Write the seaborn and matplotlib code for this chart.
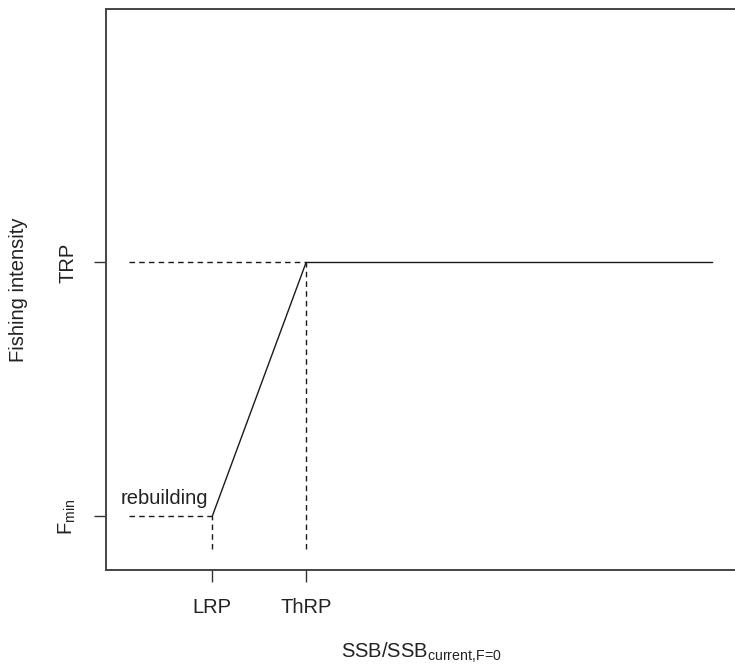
import matplotlib
matplotlib.use("Agg")
import matplotlib.pyplot as plt
import seaborn as sns
import pandas as pd

# ---- data (fractions of the plotting range) ----
x_start = 0.0
x_lrp = 0.142
x_thrp = 0.303
x_end = 1.0
y_base = 0.0
y_fmin = 0.063
y_trp = 0.552
y_top = 1.0

hcr_x = [x_lrp, x_thrp, x_end]
hcr_y = [y_fmin, y_trp, y_trp]

x_tick_pos = [x_lrp, x_thrp]
x_tick_labels = ["LRP", "ThRP"]
y_tick_pos = [y_fmin, y_trp]
y_tick_labels = [r"$\mathregular{F_{min}}$", "TRP"]

sns.set_style("white")
plt.rcParams['font.family'] = ['Liberation Sans', 'DejaVu Sans']
plt.rcParams['mathtext.fontset'] = 'custom'
plt.rcParams['mathtext.rm'] = 'Liberation Sans'
plt.rcParams['mathtext.it'] = 'Liberation Sans'

fig = plt.figure(figsize=(7.35, 6.67), dpi=100)
W, H = 735, 667
ax = fig.add_axes([106 / W, (H - 570) / H, (736 - 106) / W, (570 - 9) / H])

lc = "#1a1a1a"
df = pd.DataFrame({"x": hcr_x, "y": hcr_y})
sns.lineplot(data=df, x="x", y="y", ax=ax, color=lc, linewidth=1.0, sort=False,
             estimator=None)

dash = (0, (4, 3))
sns.lineplot(x=[x_start, x_thrp], y=[y_trp, y_trp], ax=ax, color=lc, linewidth=1.0,
             linestyle=dash, estimator=None, sort=False)
sns.lineplot(x=[x_start, x_lrp], y=[y_fmin, y_fmin], ax=ax, color=lc, linewidth=1.0,
             linestyle=dash, estimator=None, sort=False)
sns.lineplot(x=[x_lrp, x_lrp], y=[y_base, y_fmin], ax=ax, color=lc, linewidth=1.0,
             linestyle=dash, estimator=None, sort=False)
sns.lineplot(x=[x_thrp, x_thrp], y=[y_base, y_trp], ax=ax, color=lc, linewidth=1.0,
             linestyle=dash, estimator=None, sort=False)

ax.text(x_start - 0.015, y_fmin + 0.016, "rebuilding", fontsize=14.5, color="#222222",
        ha="left", va="bottom")

pad_x = 0.04 * (x_end - x_start)
pad_y = 0.04 * (y_top - y_base)
ax.set_xlim(x_start - pad_x, x_end + pad_x)
ax.set_ylim(y_base - pad_y, y_top + pad_y)

ax.set_xticks(x_tick_pos)
ax.set_xticklabels(x_tick_labels)
ax.set_yticks(y_tick_pos)
ax.set_yticklabels(y_tick_labels, rotation=90, va="center")
ax.tick_params(axis="both", direction="out", length=8.5, width=1.0, color="#333333",
               labelsize=14.5, labelcolor="#222222", pad=12)
ax.tick_params(axis="x", bottom=True)
ax.tick_params(axis="y", left=True)

for s in ax.spines.values():
    s.set_color("#444444")
    s.set_linewidth(1.4)

ax.set_xlabel(r"SSB/SSB$\mathregular{_{current{,}F\!=\!0}}$", fontsize=14.5,
              color="#222222", labelpad=17)
ax.set_ylabel("Fishing intensity", fontsize=14.5, color="#222222", labelpad=20)

fig.savefig("out.png", dpi=100)
